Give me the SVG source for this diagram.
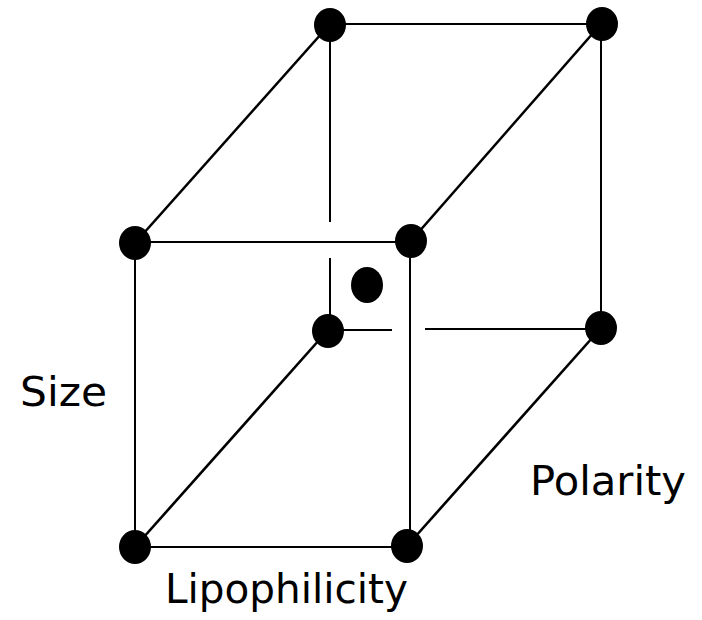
<svg xmlns="http://www.w3.org/2000/svg" width="702" height="620" viewBox="0 0 702 620">
<style>
.e{stroke:#000;stroke-width:2;fill:none}
.d{stroke-width:2.6}
.n{fill:#000}
text{font-family:"DejaVu Sans",sans-serif;font-size:41px;fill:#000}
</style>
<rect width="702" height="620" fill="#fff"/>
<g id="connectors">
<line class="e" x1="330" y1="24" x2="601" y2="24"/>
<line class="e" x1="601" y1="24" x2="601" y2="328"/>
<line class="e" x1="330" y1="24" x2="330" y2="222"/>
<line class="e" x1="330" y1="258" x2="330" y2="330"/>
<line class="e" x1="328" y1="330" x2="392" y2="330"/>
<line class="e" x1="425" y1="329" x2="601" y2="329"/>
<line class="e" x1="135" y1="242" x2="410" y2="242"/>
<line class="e" x1="135" y1="243" x2="135" y2="547"/>
<line class="e" x1="410" y1="242" x2="410" y2="546"/>
<line class="e" x1="135" y1="547" x2="407" y2="547"/>
<line class="e d" x1="135" y1="243" x2="330" y2="24"/>
<line class="e d" x1="410" y1="242" x2="601" y2="24"/>
<line class="e d" x1="135" y1="547" x2="328" y2="330"/>
<line class="e d" x1="407" y1="546" x2="601" y2="328"/>
</g>
<g id="n1"><ellipse class="n" cx="330" cy="25" rx="16" ry="17"/></g>
<g id="n2"><ellipse class="n" cx="602" cy="24" rx="16" ry="17"/></g>
<g id="n3"><ellipse class="n" cx="135" cy="243" rx="16" ry="17"/></g>
<g id="n4"><ellipse class="n" cx="411" cy="241" rx="16" ry="17"/></g>
<g id="n5"><ellipse class="n" cx="328" cy="331" rx="16" ry="17"/></g>
<g id="n6"><ellipse class="n" cx="601" cy="328" rx="16" ry="17"/></g>
<g id="n7"><ellipse class="n" cx="135" cy="547" rx="16" ry="17"/></g>
<g id="n8"><ellipse class="n" cx="407" cy="546" rx="16" ry="17"/></g>
<g id="center"><ellipse class="n" cx="367" cy="285" rx="16" ry="18"/></g>
<g id="labels">
<text x="20" y="406" textLength="87" lengthAdjust="spacingAndGlyphs">Size</text>
<text x="530" y="495" textLength="156" lengthAdjust="spacingAndGlyphs">Polarity</text>
<text x="165" y="603" textLength="243" lengthAdjust="spacingAndGlyphs">Lipophilicity</text>
</g>
</svg>
